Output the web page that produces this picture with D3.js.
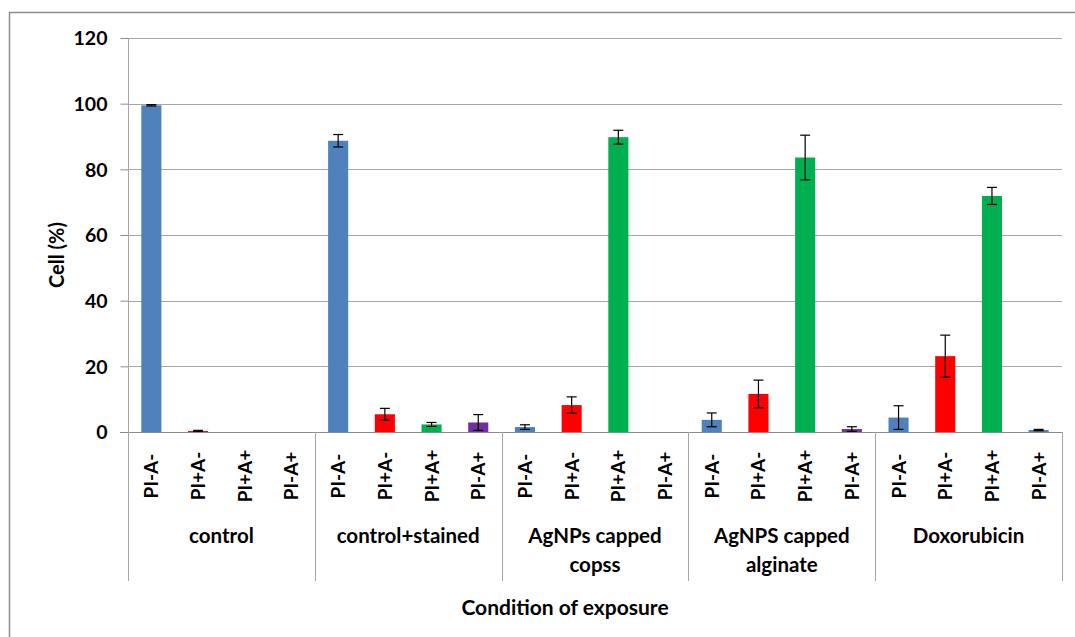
<!DOCTYPE html>
<html>
<head>
<meta charset="utf-8">
<script src="https://cdn.jsdelivr.net/npm/d3@7"></script>
<style>
  html, body { margin: 0; padding: 0; background: #fff; }
  svg text { font-family: Lato, "Open Sans", "Liberation Sans", sans-serif; font-weight: 700; fill: #000; }
</style>
</head>
<body>
<svg id="chart" width="1075" height="637"></svg>
<script>
// Exposure conditions (x groups) and staining states within each group
const groups = ["control", "control+stained", "AgNPs capped copss", "AgNPS capped alginate", "Doxorubicin"];
const groupLines = [["control"], ["control+stained"], ["AgNPs capped", "copss"], ["AgNPS capped", "alginate"], ["Doxorubicin"]];
const states = ["PI-A-", "PI+A-", "PI+A+", "PI-A+"];

// Mean cell percentage for each state, one value per group
const piMinusAMinus = [99.5, 88.7, 1.5, 3.7, 4.4];
const piPlusAMinus  = [0.3, 5.4, 8.2, 11.6, 23.1];
const piPlusAPlus   = [0, 2.3, 89.8, 83.6, 71.9];
const piMinusAPlus  = [0, 2.9, 0, 0.9, 0.6];

// Standard deviation for each bar
const errPiMinusAMinus = [0.2, 1.9, 0.7, 2.1, 3.6];
const errPiPlusAMinus  = [0.2, 1.8, 2.5, 4.2, 6.4];
const errPiPlusAPlus   = [0, 0.6, 2.1, 6.8, 2.6];
const errPiMinusAPlus  = [0, 2.4, 0, 0.7, 0.2];

const yTicks = [0, 20, 40, 60, 80, 100, 120];

// Bar fills per state
const stateColors = ["#4F81BD", "#FF0000", "#00B050", "#7030A0"];

const valueSeries = [piMinusAMinus, piPlusAMinus, piPlusAPlus, piMinusAPlus];
const errorSeries = [errPiMinusAMinus, errPiPlusAMinus, errPiPlusAPlus, errPiMinusAPlus];

const bars = [];
groups.forEach((g, gi) => {
  states.forEach((s, si) => {
    let color = stateColors[si];
    if (gi === 4 && si === 3) color = stateColors[0];
    bars.push({ group: g, state: s, value: valueSeries[si][gi], err: errorSeries[si][gi], color });
  });
});

const svg = d3.select("#chart");

// Outer chart frame
svg.append("rect")
  .attr("x", 9.5).attr("y", 12.5)
  .attr("width", 1080).attr("height", 640)
  .attr("fill", "none").attr("stroke", "#8c8c8c").attr("stroke-width", 1.5);

const plot = { left: 128, right: 1062, top: 38, bottom: 432 };
const catBottom = 581;

const y = d3.scaleLinear().domain([0, 120]).range([plot.bottom, plot.top]);
const x0 = d3.scaleBand().domain(groups).range([plot.left, plot.right]).padding(0);
const x1 = d3.scaleBand().domain(states).range([0, x0.bandwidth()])
  .paddingInner(0.57).paddingOuter(0.285);

// Horizontal gridlines
svg.append("g").selectAll("line")
  .data(yTicks.filter(t => t > 0))
  .join("line")
  .attr("x1", plot.left).attr("x2", plot.right)
  .attr("y1", d => Math.round(y(d)) + 0.5).attr("y2", d => Math.round(y(d)) + 0.5)
  .attr("stroke", "#a6a6a6").attr("stroke-width", 1);

// Y axis
const yAxis = svg.append("g")
  .attr("transform", `translate(${plot.left + 0.5},0)`)
  .call(d3.axisLeft(y).tickValues(yTicks).tickSize(8).tickPadding(13));
yAxis.select(".domain").remove();
yAxis.selectAll(".tick line").attr("stroke", "#8c8c8c");
yAxis.selectAll(".tick text").style("font-size", "19.5px").attr("dy", "0.35em");

// Bars
svg.append("g").selectAll("rect")
  .data(bars)
  .join("rect")
  .attr("x", d => x0(d.group) + x1(d.state))
  .attr("width", x1.bandwidth())
  .attr("y", d => y(d.value))
  .attr("height", d => y(0) - y(d.value))
  .attr("fill", d => d.color);

// Error bars
const capHalf = 5;
const eb = svg.append("g").attr("stroke", "#000").attr("stroke-width", 1.2)
  .selectAll("g")
  .data(bars.filter(d => d.value > 0))
  .join("g")
  .attr("transform", d => `translate(${x0(d.group) + x1(d.state) + x1.bandwidth() / 2},0)`);
eb.append("line")
  .attr("y1", d => y(d.value + d.err))
  .attr("y2", d => y(Math.max(0, d.value - d.err)));
eb.append("line")
  .attr("x1", -capHalf).attr("x2", capHalf)
  .attr("y1", d => y(d.value + d.err)).attr("y2", d => y(d.value + d.err));
eb.append("line")
  .attr("x1", -capHalf).attr("x2", capHalf)
  .attr("y1", d => y(Math.max(0, d.value - d.err))).attr("y2", d => y(Math.max(0, d.value - d.err)));

// Baseline and category axis lines
svg.append("line")
  .attr("x1", plot.left - 8).attr("x2", plot.right)
  .attr("y1", plot.bottom + 0.5).attr("y2", plot.bottom + 0.5)
  .attr("stroke", "#8c8c8c");
svg.append("line")
  .attr("x1", plot.left + 0.5).attr("x2", plot.left + 0.5)
  .attr("y1", plot.top).attr("y2", catBottom)
  .attr("stroke", "#a6a6a6");
svg.append("g").selectAll("line")
  .data(groups)
  .join("line")
  .attr("x1", d => Math.round(x0(d) + x0.bandwidth()) + 0.5)
  .attr("x2", d => Math.round(x0(d) + x0.bandwidth()) + 0.5)
  .attr("y1", plot.bottom).attr("y2", catBottom)
  .attr("stroke", "#a6a6a6");

// Rotated state labels
svg.append("g").selectAll("text")
  .data(bars)
  .join("text")
  .attr("transform", d => `translate(${x0(d.group) + x1(d.state) + x1.bandwidth() / 2 + 7},476) rotate(-90)`)
  .attr("text-anchor", "middle")
  .style("font-size", "19px")
  .text(d => d.state);

// Group labels
const gl = svg.append("g").selectAll("text")
  .data(groups)
  .join("text")
  .attr("x", d => x0(d) + x0.bandwidth() / 2)
  .attr("y", 543)
  .attr("text-anchor", "middle")
  .style("font-size", "20.5px");
gl.selectAll("tspan")
  .data((d, i) => groupLines[i])
  .join("tspan")
  .attr("x", function () { return d3.select(this.parentNode).attr("x"); })
  .attr("dy", (d, i) => i === 0 ? 0 : 29)
  .text(d => d);

// Axis titles
svg.append("text")
  .attr("transform", "translate(64,255) rotate(-90)")
  .attr("text-anchor", "middle")
  .style("font-size", "20px")
  .text("Cell (%)");

svg.append("text")
  .attr("x", 565).attr("y", 615)
  .attr("text-anchor", "middle")
  .style("font-size", "21px")
  .text("Condition of exposure");
</script>
</body>
</html>
